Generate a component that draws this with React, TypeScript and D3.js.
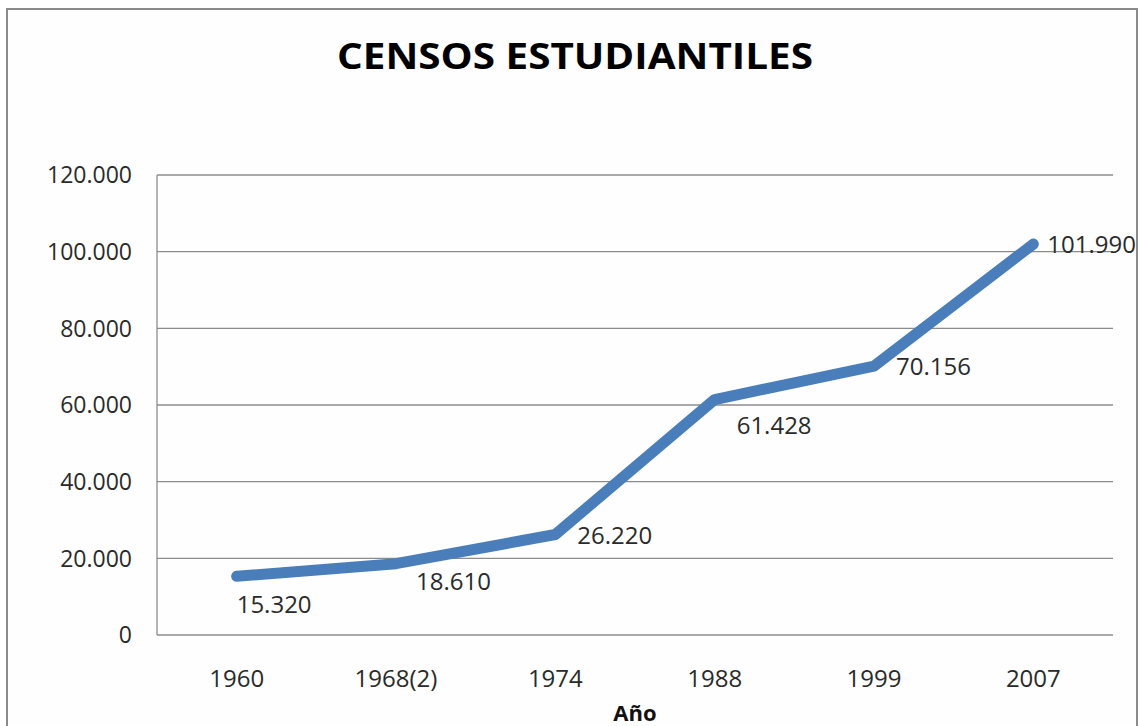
import React from "react";
import * as d3 from "d3";

const categories = ["1960", "1968(2)", "1974", "1988", "1999", "2007"];
const values = [15320, 18610, 26220, 61428, 70156, 101990];
const yTicks = [0, 20000, 40000, 60000, 80000, 100000, 120000];
const title = "CENSOS ESTUDIANTILES";
const xTitle = "Año";

// label placement (dx, dy) relative to each point
const labelOffsets: [number, number][] = [
  [0, 28],
  [20, 18],
  [22, 1],
  [22, 26],
  [22, 0],
  [14, 0],
];

const W = 1142;
const H = 726;
const plot = { left: 157, right: 1113, top: 175, bottom: 635 };

const fmt = (v: number) =>
  v === 0 ? "0" : d3.format(",")(v).replace(/,/g, ".");

export default function App() {
  const x = d3
    .scaleBand<string>()
    .domain(categories)
    .range([plot.left, plot.right]);
  const y = d3.scaleLinear().domain([0, 120000]).range([plot.bottom, plot.top]);
  const cx = (c: string) => (x(c) as number) + x.bandwidth() / 2;

  const line = d3
    .line<number>()
    .x((_, i) => cx(categories[i]))
    .y((d) => y(d));

  const font = "'Open Sans', 'DejaVu Sans', sans-serif";
  const textColor = "#2a2a2a";

  return (
    <div style={{ position: "absolute", left: 0, top: 0 }}>
      <svg width={W} height={H} style={{ display: "block", background: "#fff" }}>
        <rect x={0} y={0} width={W} height={H} fill="#ffffff" />
        <rect
          x={7}
          y={9}
          width={1130}
          height={740}
          fill="#fefefe"
          stroke="#8a8a8a"
          strokeWidth={2}
        />
        <text
          x={575}
          y={69}
          textAnchor="middle"
          fontFamily={font}
          fontWeight="bold"
          fontSize={36}
          fill="#000"
          textLength={476}
          lengthAdjust="spacingAndGlyphs"
        >
          {title}
        </text>

        {yTicks.map((t) => (
          <g key={t}>
            <line
              x1={plot.left}
              x2={plot.right}
              y1={y(t)}
              y2={y(t)}
              stroke="#8c8c8c"
              strokeWidth={1.3}
            />
            <text
              x={plot.left - 25}
              y={y(t)}
              dy="0.36em"
              textAnchor="end"
              fontFamily={font}
              fontSize={23}
              fill={textColor}
            >
              {fmt(t)}
            </text>
          </g>
        ))}
        <line
          x1={plot.left}
          x2={plot.left}
          y1={plot.top}
          y2={plot.bottom}
          stroke="#8c8c8c"
          strokeWidth={1.3}
        />

        {categories.map((c) => (
          <text
            key={c}
            x={cx(c)}
            y={plot.bottom + 52}
            textAnchor="middle"
            fontFamily={font}
            fontSize={24}
            fill={textColor}
          >
            {c}
          </text>
        ))}

        <text
          x={(plot.left + plot.right) / 2}
          y={721}
          textAnchor="middle"
          fontFamily={font}
          fontWeight="bold"
          fontSize={22}
          fill="#111"
        >
          {xTitle}
        </text>

        <path
          d={line(values) || ""}
          fill="none"
          stroke="#4A7EBB"
          strokeWidth={11}
          strokeLinecap="round"
          strokeLinejoin="round"
        />

        {values.map((v, i) => (
          <text
            key={i}
            x={cx(categories[i]) + labelOffsets[i][0]}
            y={y(v) + labelOffsets[i][1]}
            dy="0.36em"
            fontFamily={font}
            fontSize={24}
            fill={textColor}
          >
            {fmt(v)}
          </text>
        ))}
      </svg>
    </div>
  );
}
